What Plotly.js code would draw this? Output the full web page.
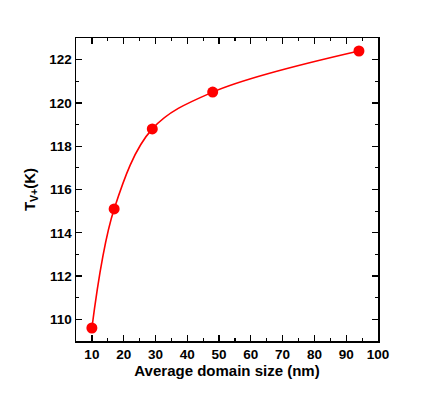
<!DOCTYPE html>
<html>
<head>
<meta charset="utf-8">
<script src="https://cdn.plot.ly/plotly-3.0.1.min.js"></script>
<style>
  html, body { margin: 0; padding: 0; background: #fff; }
  #chart { width: 436px; height: 417px; }
</style>
</head>
<body>
<div id="chart"></div>
<script>
// average domain size (nm) vs transition temperature (K)
const domainSize = [10, 17, 29, 48, 94]
const tempK = [109.6, 115.1, 118.8, 120.5, 122.4]

const xTicks = [10, 20, 30, 40, 50, 60, 70, 80, 90, 100]
const yTicks = [110, 112, 114, 116, 118, 120, 122]

const tickFont = {family: 'Liberation Sans, Arial, sans-serif', size: 13.5, color: '#000', weight: 'bold'}
const titleFont = {family: 'Liberation Sans, Arial, sans-serif', size: 15, color: '#000', weight: 'bold'}

const trace = {
    x: domainSize,
    y: tempK,
    type: 'scatter',
    mode: 'lines+markers',
    line: {shape: 'spline', smoothing: 1, color: '#ff0000', width: 1.6},
    marker: {color: '#ff0000', size: 11},
}

const axisCommon = {
    showline: true,
    linecolor: '#000',
    linewidth: 1.5,
    mirror: 'ticks',
    ticks: 'inside',
    ticklen: 6,
    tickwidth: 1.3,
    tickcolor: '#000',
    showgrid: false,
    zeroline: false,
    tickfont: tickFont,
}

const layout = {
    width: 436,
    height: 417,
    margin: {l: 76, r: 58, t: 38, b: 76},
    paper_bgcolor: '#fff',
    plot_bgcolor: '#fff',
    showlegend: false,
    xaxis: Object.assign({}, axisCommon, {
        range: [5, 100],
        tickvals: xTicks,
        ticktext: xTicks.map(String),
        minor: {dtick: 5, tick0: 0, ticks: 'inside', ticklen: 3, tickwidth: 1.2, tickcolor: '#000'},
        title: {text: 'Average domain size (nm)', font: titleFont, standoff: 4},
    }),
    yaxis: Object.assign({}, axisCommon, {
        range: [109, 123],
        tickvals: yTicks,
        ticktext: yTicks.map(String),
        minor: {dtick: 1, tick0: 0, ticks: 'inside', ticklen: 3, tickwidth: 1.2, tickcolor: '#000'},
        title: {text: 'T<sub>V+</sub>(K)', font: titleFont, standoff: 10},
    }),
}

Plotly.newPlot('chart', [trace], layout, {displayModeBar: false, staticPlot: true})
</script>
</body>
</html>
